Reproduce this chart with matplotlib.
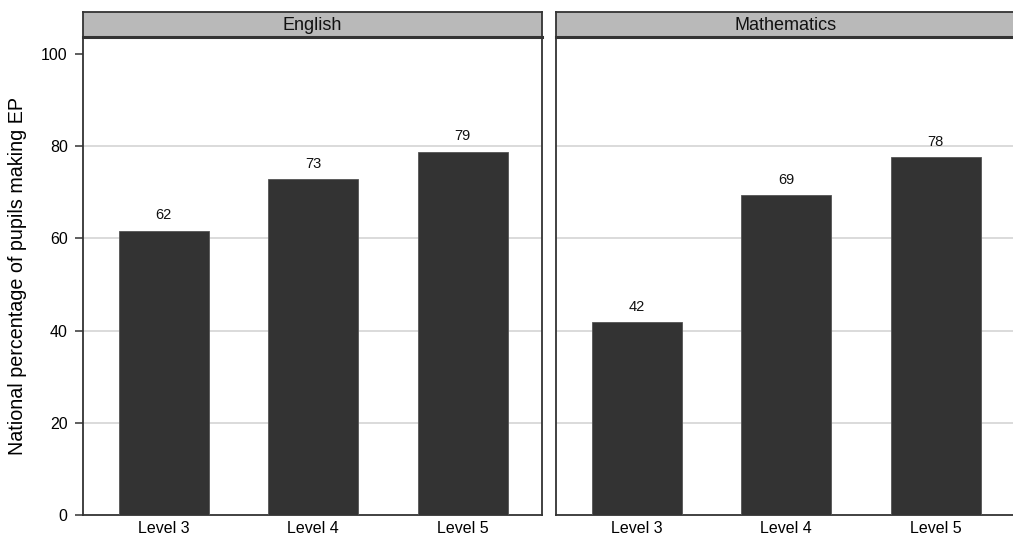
import matplotlib.pyplot as plt

plt.rcParams['font.family'] = ['Liberation Sans', 'DejaVu Sans']

levels = ['Level 3', 'Level 4', 'Level 5']
english = [61.7, 72.9, 78.8]
maths = [41.8, 69.4, 77.6]
panels = ['English', 'Mathematics']
yticks = [0, 20, 40, 60, 80, 100]

bar_col = '#333333'
edge_col = '#333333'

fig = plt.figure(figsize=(10.13, 5.36), dpi=100)

W, H = 1013., 536.
ax_w = 459 / W
bottom = (H - 515) / H
height = (515 - 37) / H
strip_h = 25 / H

lefts = [83 / W, 556 / W]
data = [english, maths]

for i, (name, vals) in enumerate(zip(panels, data)):
    ax = fig.add_axes([lefts[i], bottom, ax_w, height])
    x = range(len(levels))
    bars = ax.bar(x, vals, width=0.6, color=bar_col, edgecolor='#555555', linewidth=0.6, zorder=3)
    for rect, v in zip(bars, vals):
        ax.text(rect.get_x() + rect.get_width() / 2, v + 1.8, str(int(round(v))),
                ha='center', va='bottom', fontsize=10.5, color='#111111', zorder=4)
    ax.set_xlim(-0.54, 2.53)
    ax.set_ylim(0, 103.7)
    ax.set_xticks(list(x))
    ax.set_xticklabels(levels, fontsize=11.5)
    ax.tick_params(axis='x', length=0, pad=4)
    ax.set_yticks(yticks)
    for g in yticks[1:-1]:
        ax.axhline(g, color='#d4d4d4', linewidth=1.2, zorder=1)
    ax.spines['top'].set_visible(False)
    for s in ['left', 'right', 'bottom']:
        ax.spines[s].set_color(edge_col)
        ax.spines[s].set_linewidth(1.3)
    if i == 0:
        ax.tick_params(axis='y', length=6, width=1.1, color='#333333', labelsize=11.5, pad=5)
        ax.set_ylabel('National percentage of pupils making EP', fontsize=14.2, labelpad=10)
    else:
        ax.tick_params(axis='y', length=0, labelleft=False)

    sax = fig.add_axes([lefts[i], bottom + height, ax_w, strip_h])
    sax.set_facecolor('#b9b9b9')
    sax.set_xticks([])
    sax.set_yticks([])
    for s in sax.spines.values():
        s.set_color('#333333')
        s.set_linewidth(1.3)
    sax.spines['bottom'].set_linewidth(2.2)
    sax.text(0.5, 0.45, name, ha='center', va='center', fontsize=13, color='#111111',
             transform=sax.transAxes)

fig.savefig('out.png', dpi=100)
